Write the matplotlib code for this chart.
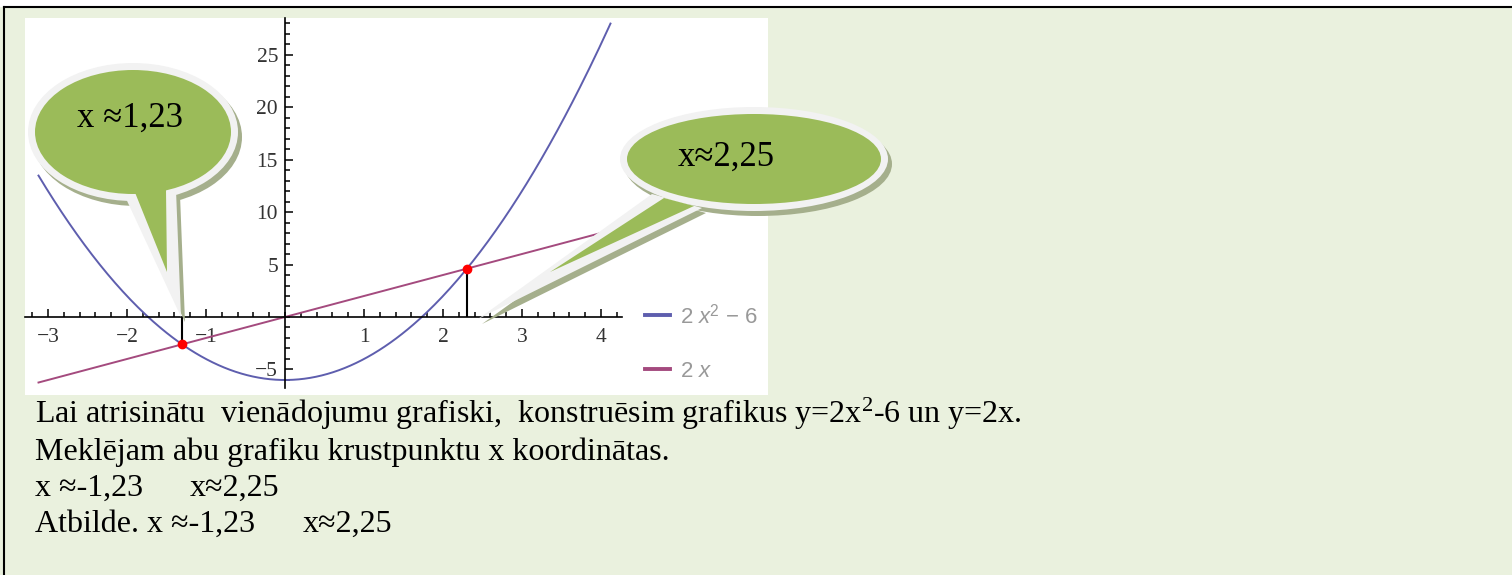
import numpy as np
import matplotlib.pyplot as plt
from matplotlib.patches import Ellipse, Polygon, Rectangle

plt.rcParams['mathtext.fontset'] = 'custom'
plt.rcParams['mathtext.rm'] = 'Liberation Serif'
plt.rcParams['mathtext.it'] = 'Liberation Serif:italic'
plt.rcParams['mathtext.sf'] = 'Liberation Sans:italic'
plt.rcParams['mathtext.bf'] = 'Liberation Sans'

# dati
x_start, x_end = -3.12, 4.12
cross_x = [-1.30, 2.30]
cross_y = [-2.60, 4.60]
x_major = [-3, -2, -1, 1, 2, 3, 4]
x_labels = ['−3', '−2', '−1', '1', '2', '3', '4']
y_major = [-5, 5, 10, 15, 20, 25]
y_labels = ['−5', '5', '10', '15', '20', '25']
legend_labels = ['2 $\\mathsf{x}^{\\mathbf{2}}$ − 6', '2 $\\mathsf{x}$']
bubble_texts = ['x ≈1,23', 'x≈2,25']
text_lines = ['Lai atrisinātu  vienādojumu grafiski,  konstruēsim grafikus y=2x$^{\\mathrm{2}}$-6 un y=2x.',
              'Meklējam abu grafiku krustpunktu x koordinātas.',
              'x ≈-1,23', 'Atbilde. x ≈-1,23']
text_second = ['x≈2,25', 'x≈2,25']

W, H = 1512, 575
fig = plt.figure(figsize=(W / 100, H / 100), dpi=100, facecolor='#EAF1DE')

# grafiks
ax = fig.add_axes([25 / W, 1 - 395 / H, 743 / W, 377 / H], zorder=1)
ax.set_facecolor('white')
ax.set_xlim(-3.291, 6.114)
ax.set_ylim(-7.43, 28.48)

xs = np.linspace(x_start, x_end, 300)
l_par, = ax.plot(xs, 2 * xs ** 2 - 6, color='#5E5EAE', lw=1.4)
l_lin, = ax.plot(xs, 2 * xs, color='#A44A7E', lw=1.4)
ax.vlines(cross_x, 0, cross_y, color='black', lw=1.5, zorder=3)
ax.plot(cross_x, cross_y, 'o', color='#FF0000', ms=6, zorder=4)

for s in ['top', 'right']:
    ax.spines[s].set_visible(False)
ax.spines['left'].set_position(('data', 0))
ax.spines['bottom'].set_position(('data', 0))
ax.spines['left'].set_bounds(-6.8, 28.48)
ax.spines['bottom'].set_bounds(-3.291, 4.27)
ax.spines['left'].set_linewidth(1.2)
ax.spines['bottom'].set_linewidth(1.2)

ax.set_xticks(x_major)
ax.set_xticklabels(x_labels)
ax.set_xticks(np.round(np.arange(-3.2, 4.21, 0.2), 1), minor=True)
ax.set_yticks(y_major)
ax.set_yticklabels(y_labels)
ax.set_yticks(np.arange(-6, 29, 1), minor=True)
ax.tick_params(which='both', direction='in', color='black', width=1.1)
ax.tick_params(which='major', length=6)
ax.tick_params(which='minor', length=3.8)
ax.tick_params(axis='x', pad=8, labelsize=15.5, labelcolor='#333333')
ax.tick_params(axis='y', pad=5, labelsize=15.5, labelcolor='#333333')
for lab in ax.get_xticklabels() + ax.get_yticklabels():
    lab.set_fontfamily('Liberation Serif')

leg = ax.legend([l_par, l_lin], legend_labels, loc='center left',
                bbox_to_anchor=(0.834, 0.139), frameon=False,
                handlelength=1.12, handletextpad=0.45, labelspacing=1.46,
                borderpad=0, borderaxespad=0,
                prop={'family': 'Liberation Sans', 'size': 16},
                labelcolor='#999999')
for h in leg.legend_handles:
    h.set_linewidth(2.8)

# virsējais slānis: rāmis, burbuļi, teksts
ov = fig.add_axes([0, 0, 1, 1], zorder=3)
ov.set_xlim(0, W)
ov.set_ylim(H, 0)
ov.axis('off')
ov.patch.set_visible(False)

ov.add_patch(Rectangle((0, 0), W, 6, color='white'))
ov.plot([4, W], [6.5, 6.5], color='black', lw=1.5)
ov.plot([4, 4], [6.5, H], color='black', lw=1.5)


def bubble(cx, cy, w, h, tail_out, tail_in, dx=4, dy=5):
    shadow = '#A5AF8C'
    ov.add_patch(Ellipse((cx + dx, cy + dy), w, h, fc=shadow, ec='none'))
    ov.add_patch(Polygon([(x + dx, y + dy) for x, y in tail_out], fc=shadow, ec='none'))
    ov.add_patch(Ellipse((cx, cy), w, h, fc='#F2F2F2', ec='none'))
    ov.add_patch(Polygon(tail_out, fc='#F2F2F2', ec='none'))
    ov.add_patch(Ellipse((cx, cy), w - 14, h - 14, fc='#9BBB59', ec='none'))
    ov.add_patch(Polygon(tail_in, fc='#9BBB59', ec='none'))


bubble(133, 132, 210, 138,
       [(122, 190), (176, 190), (181, 317)],
       [(134, 190), (166, 190), (167, 272)])
bubble(754, 159, 268, 104,
       [(652, 194), (478, 319), (702, 208)],
       [(664, 198), (550, 272), (694, 206)])

ov.text(77, 127, bubble_texts[0], fontsize=25, family='Liberation Serif', va='baseline')
ov.text(678, 166, bubble_texts[1], fontsize=25, family='Liberation Serif', va='baseline')

baselines = [423, 460, 496, 532]
for line, y in zip(text_lines, baselines):
    ov.text(35, y, line, fontsize=23, family='Liberation Serif', va='baseline')
ov.text(190, baselines[2], text_second[0], fontsize=23, family='Liberation Serif', va='baseline')
ov.text(303, baselines[3], text_second[1], fontsize=23, family='Liberation Serif', va='baseline')

fig.savefig('out.png', dpi=100, facecolor=fig.get_facecolor())
